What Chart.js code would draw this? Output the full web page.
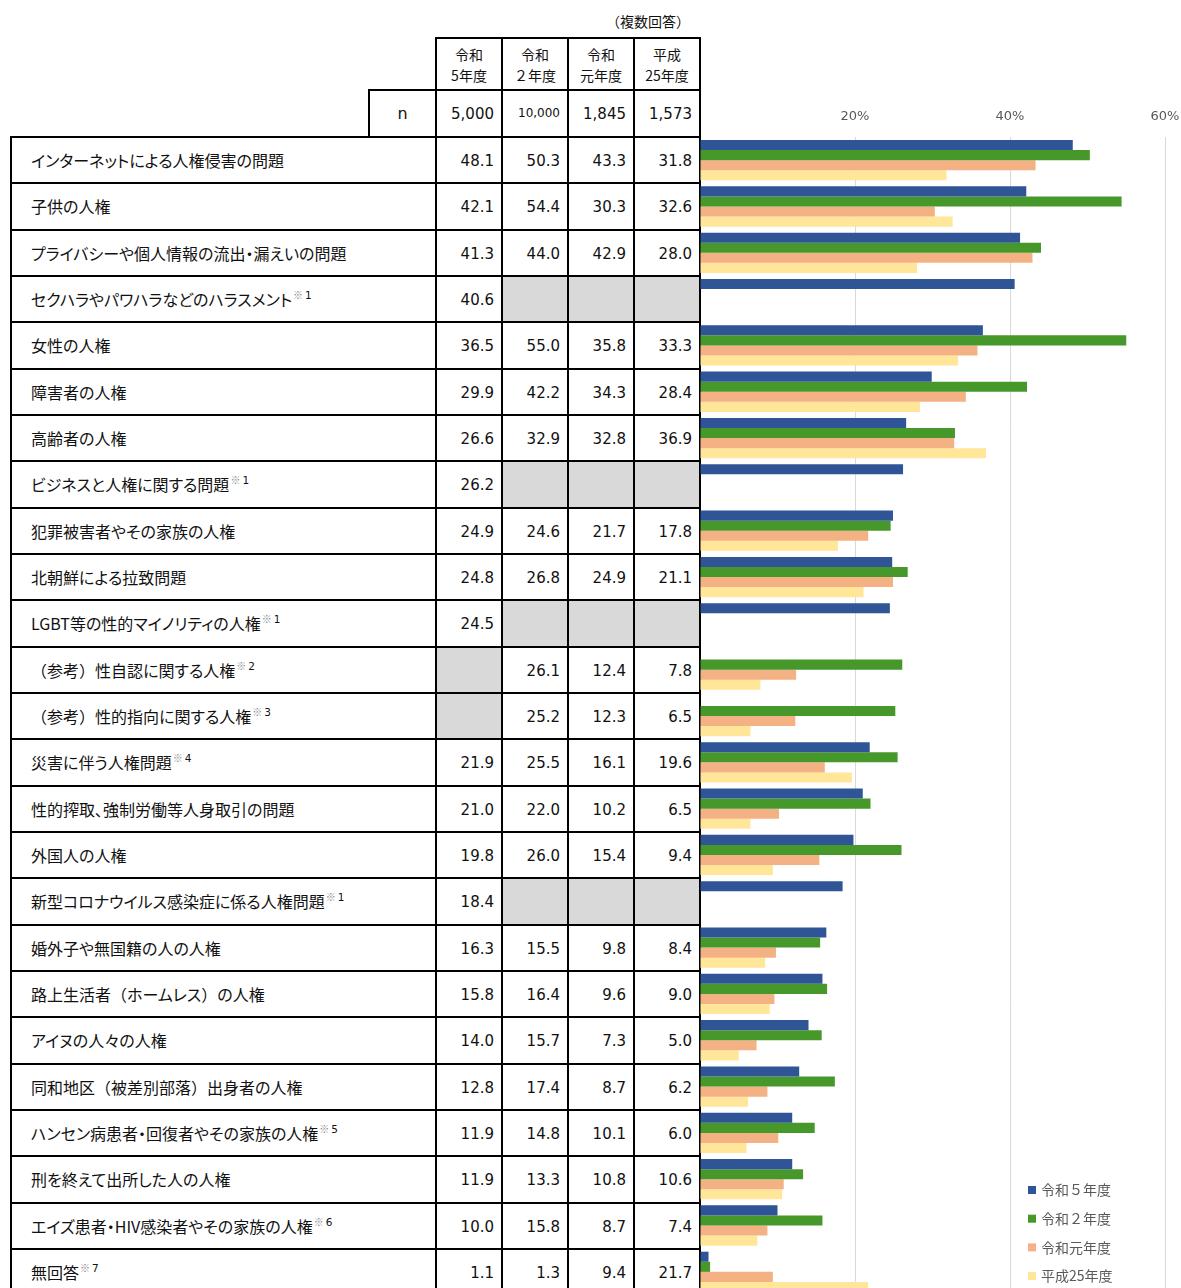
<!DOCTYPE html>
<html><head><meta charset="utf-8">
<script src="https://cdn.jsdelivr.net/npm/chart.js@4/dist/chart.umd.min.js"></script>
<style>
html,body{margin:0;padding:0;background:#fff;}
body{width:1181px;height:1288px;overflow:hidden;position:relative;}
.ab{position:absolute;}
.ln{position:absolute;background:#000;}
.lab{position:absolute;left:31px;display:flex;align-items:center;font-family:"Noto Sans CJK JP";font-size:16px;color:#111;font-feature-settings:"palt";white-space:nowrap;}
.lab .fw{font-feature-settings:normal;}
.lab sup{font-size:10.5px;position:relative;top:-4px;margin-left:1px;vertical-align:top;line-height:11px;color:#111;white-space:nowrap}
.lab sup .mk{font-family:"Noto Sans CJK JP";color:#888;font-size:10px;font-feature-settings:normal}
.lab sup .dg{font-family:"DejaVu Sans";margin-left:2px}
.num{position:absolute;display:flex;align-items:center;justify-content:flex-end;font-family:"DejaVu Sans";font-size:15px;color:#111;box-sizing:border-box;padding-right:8px;}
.hdr{position:absolute;text-align:center;font-family:"Noto Sans CJK JP";font-size:14px;line-height:21px;color:#111;}
.gray{position:absolute;background:#d9d9d9;}
</style></head>
<body>
<div id="tbl"></div>
<div class="ab" style="left:700px;top:98px;width:481px;height:1197px;"><canvas id="c"></canvas></div>
<script>
const categories = [
"インターネットによる人権侵害の問題","子供の人権","プライバシーや個人情報の流出・漏えいの問題",
"セクハラやパワハラなどのハラスメント","女性の人権","障害者の人権","高齢者の人権",
"ビジネスと人権に関する問題","犯罪被害者やその家族の人権","北朝鮮による拉致問題",
"LGBT等の性的マイノリティの人権","（参考）性自認に関する人権","（参考）性的指向に関する人権",
"災害に伴う人権問題","性的搾取、強制労働等人身取引の問題","外国人の人権",
"新型コロナウイルス感染症に係る人権問題","婚外子や無国籍の人の人権","路上生活者（ホームレス）の人権",
"アイヌの人々の人権","同和地区（被差別部落）出身者の人権","ハンセン病患者・回復者やその家族の人権",
"刑を終えて出所した人の人権","エイズ患者・HIV感染者やその家族の人権","無回答"];
const notes = ["","","","※1","","","","※1","","","※1","※2","※3","※4","","","※1","","","","","※5","","※6","※7"];
const seriesLabels = ["令和５年度","令和２年度","令和元年度","平成25年度"];
const headerTop = ["令和","令和","令和","平成"];
const headerBottom = ["5年度","２年度","元年度","25年度"];
const nValues = ["5,000","10,000","1,845","1,573"];
const reiwa5  = [48.1,42.1,41.3,40.6,36.5,29.9,26.6,26.2,24.9,24.8,24.5,null,null,21.9,21.0,19.8,18.4,16.3,15.8,14.0,12.8,11.9,11.9,10.0,1.1];
const reiwa2  = [50.3,54.4,44.0,null,55.0,42.2,32.9,null,24.6,26.8,null,26.1,25.2,25.5,22.0,26.0,null,15.5,16.4,15.7,17.4,14.8,13.3,15.8,1.3];
const reiwa1  = [43.3,30.3,42.9,null,35.8,34.3,32.8,null,21.7,24.9,null,12.4,12.3,16.1,10.2,15.4,null,9.8,9.6,7.3,8.7,10.1,10.8,8.7,9.4];
const heisei25= [31.8,32.6,28.0,null,33.3,28.4,36.9,null,17.8,21.1,null,7.8,6.5,19.6,6.5,9.4,null,8.4,9.0,5.0,6.2,6.0,10.6,7.4,21.7];
const seriesColors = ["#2F5597","#46982A","#F4B183","#FFE699"];
const xTickValues = [20,40,60];

// ---------- table ----------
const T = document.getElementById('tbl');
const TOP = 137, RH = 46.33, LEFT = 11, COLS = [436,502,568,634,700];
const N = categories.length;
function el(cls, css, html){const d=document.createElement('div');d.className=cls;d.style.cssText=css;if(html!==undefined)d.innerHTML=html;T.appendChild(d);return d;}
function hl(x1,x2,y){el('ln',`left:${x1-1}px;top:${y-1}px;width:${x2-x1+2}px;height:2px;`);}
function vl(x,y1,y2){el('ln',`left:${x-1}px;top:${y1-1}px;width:2px;height:${y2-y1+2}px;`);}
function fmtLabel(s){return s.replace(/[（）]/g,c=>`<span class="fw">${c}</span>`);}
function fmtNote(n){return n?`<sup><span class="mk">※</span><span class="dg">${n.slice(1)}</span></sup>`:'';}
const series = [reiwa5,reiwa2,reiwa1,heisei25];
for(let i=0;i<N;i++){
  const y=TOP+i*RH;
  for(let j=0;j<4;j++){
    if(series[j][i]===null){el('gray',`left:${COLS[j]}px;top:${y}px;width:${COLS[j+1]-COLS[j]}px;height:${RH}px;`);}
    else el('num',`left:${COLS[j]}px;top:${y+1}px;width:${COLS[j+1]-COLS[j]}px;height:${RH}px;`,series[j][i].toFixed(1));
  }
  el('lab',`top:${y}px;height:${RH}px;`, fmtLabel(categories[i])+fmtNote(notes[i]));
}
el('ab',`left:560px;top:11px;width:130px;text-align:right;font-family:"Noto Sans CJK JP";font-size:14px;color:#111;`,'（複数回答）');
for(let j=0;j<4;j++){
  el('hdr',`left:${COLS[j]}px;top:44px;width:${COLS[j+1]-COLS[j]}px;`,headerTop[j]+'<br>'+headerBottom[j]);
  el('num',`left:${COLS[j]}px;top:91px;width:${COLS[j+1]-COLS[j]}px;height:46px;`+(nValues[j].length>5?'font-size:12px;padding-bottom:3px;':''),nValues[j]);
}
el('num',`left:369px;top:90px;width:67px;height:47px;justify-content:center;padding:0;font-size:16px;`,'n');
hl(436,700,38);
hl(369,700,90);
vl(369,90,137);
hl(LEFT,700,TOP);
for(let i=1;i<N;i++) hl(LEFT,700,Math.round(TOP+i*RH));
vl(LEFT,TOP,1300);
COLS.forEach(x=>vl(x,38,1300));

// ---------- chart ----------
const legendPlugin = {
  id:'customLegend',
  afterDraw(chart){
    const ctx=chart.ctx;
    ctx.save();
    ctx.font='14px "Noto Sans CJK JP"';
    ctx.textBaseline='middle';
    chart.data.datasets.forEach((ds,k)=>{
      const y=1092+k*28.7;
      const x=328;
      ctx.fillStyle=ds.backgroundColor;
      ctx.fillRect(x,y-4,8,8);
      ctx.fillStyle='#595959';
      ctx.fillText(ds.label,x+13,y);
    });
    ctx.restore();
  }
};
new Chart(document.getElementById('c'),{
  type:'bar',
  data:{
    labels:categories,
    datasets:series.map((s,k)=>({label:seriesLabels[k],data:s,backgroundColor:seriesColors[k],borderWidth:0,categoryPercentage:0.87,barPercentage:1}))
  },
  options:{
    indexAxis:'y',
    responsive:true,maintainAspectRatio:false,animation:false,
    layout:{padding:{left:0,right:16,top:0,bottom:0}},
    plugins:{legend:{display:false},tooltip:{enabled:false}},
    scales:{
      x:{position:'top',min:0,max:60,
        afterBuildTicks(scale){scale.ticks=[0].concat(xTickValues).map(v=>({value:v}));},
        afterFit(scale){scale.height=39;scale.paddingLeft=0;scale.paddingRight=0;},
        ticks:{padding:13,color:'#595959',font:{family:'"DejaVu Sans"',size:13},callback:v=>v===0?'':v+'%'},
        grid:{color:ctx=>ctx.tick&&ctx.tick.value===0?'rgba(0,0,0,0)':'#d9d9d9',drawTicks:false,lineWidth:1},
        border:{display:false}},
      y:{display:false}
    }
  },
  plugins:[legendPlugin]
});
</script>
</body></html>
